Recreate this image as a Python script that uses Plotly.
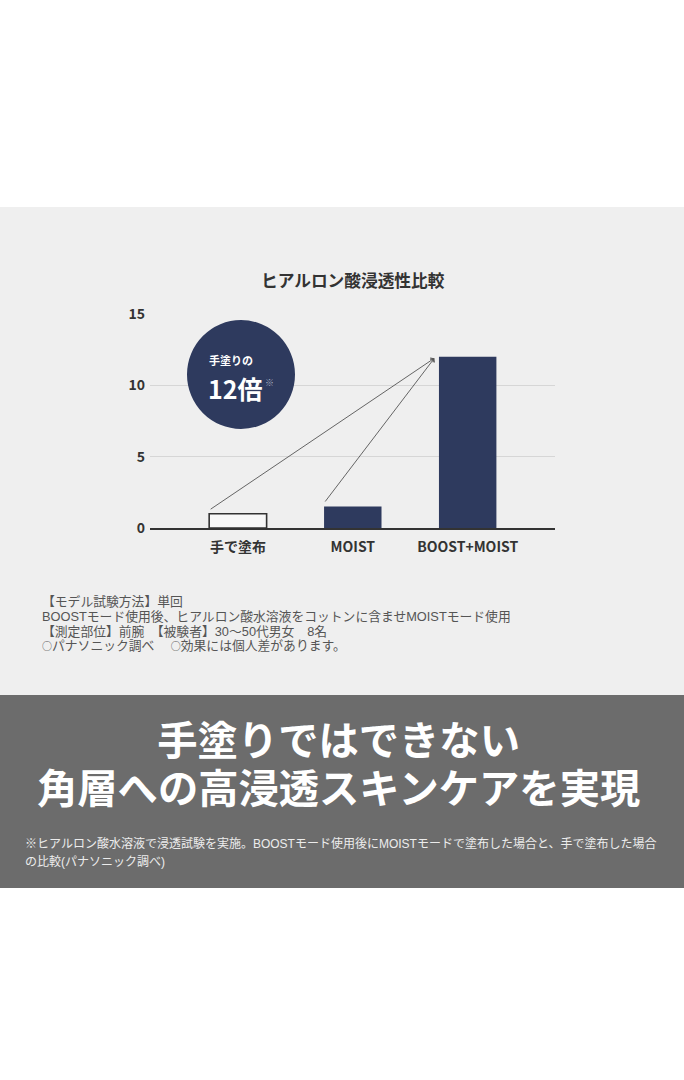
import plotly.graph_objects as go

W, H = 684, 1080

# ---- data ----
categories = ["手で塗布", "MOIST", "BOOST+MOIST"]
values = [1.0, 1.5, 12.0]
y_ticks = [0, 5, 10, 15]
chart_title = "ヒアルロン酸浸透性比較"
badge_line1 = "手塗りの"
badge_line2 = "12倍"
notes = [
    "【モデル試験方法】単回",
    "BOOSTモード使用後、ヒアルロン酸水溶液をコットンに含ませMOISTモード使用",
    "【測定部位】前腕　【被験者】30～50代男女　8名",
    "○パナソニック調べ　 ○効果には個人差があります。",
]
headline = ["手塗りではできない", "角層への高浸透スキンケアを実現"]
footnote = [
    "※ヒアルロン酸水溶液で浸透試験を実施。BOOSTモード使用後にMOISTモードで塗布した場合と、手で塗布した場合",
    "の比較(パナソニック調べ)",
]

NAVY = "#2e3a5e"
JP = "Noto Sans CJK JP"
JP_TIGHT = "Liberation Sans, Noto Sans CJK JP"   # compact line metrics for tight multi-line blocks


def px(x):
    return x / W


def py(y):
    return (H - y) / H


def lines(texts, size):
    return "<br>".join(f'<span style="font-size:{size}px">{t}</span>' for t in texts)


def cjk_circle(t):
    return t.replace("○", '<span style="font-family:Noto Sans CJK JP;font-size:10px">○</span>')


bar_width = 0.5
fill_colors = ["#f8f8f8", NAVY, NAVY]
line_colors = ["#333333", NAVY, NAVY]

fig = go.Figure()
fig.add_trace(go.Bar(
    x=list(range(len(categories))), y=values,
    width=bar_width,
    marker=dict(color=fill_colors, line=dict(color=line_colors, width=[1.6, 0, 0])),
    hoverinfo="skip",
))

shapes = [
    dict(type="rect", xref="paper", yref="paper", x0=0, x1=1, y0=py(695), y1=py(207),
         fillcolor="#efefef", line=dict(width=0), layer="below"),
    dict(type="rect", xref="paper", yref="paper", x0=0, x1=1, y0=py(888), y1=py(695),
         fillcolor="#6c6c6c", line=dict(width=0), layer="below"),
    dict(type="circle", xref="paper", yref="paper", x0=px(187), x1=px(295), y0=py(429), y1=py(320),
         fillcolor=NAVY, line=dict(width=0), layer="above"),
]

annotations = [
    dict(text=chart_title, x=px(353), y=py(280), xref="paper", yref="paper", showarrow=False,
         xanchor="center", yanchor="middle",
         font=dict(family=JP, size=16.7, color="#333333", weight="bold")),
    dict(text=badge_line1, x=px(207), y=py(360), xref="paper", yref="paper", showarrow=False,
         xanchor="left", yanchor="middle",
         font=dict(family=JP, size=11, color="white", weight="bold")),
    dict(text=badge_line2, x=px(206), y=py(388), xref="paper", yref="paper", showarrow=False,
         xanchor="left", yanchor="middle",
         font=dict(family=JP, size=25, color="white", weight="bold")),
    dict(text="※", x=px(263), y=py(382), xref="paper", yref="paper", showarrow=False,
         xanchor="left", yanchor="middle",
         font=dict(family=JP, size=9, color="#aab0c0")),
]

# arrows from the two smaller bars to the top of the BOOST+MOIST bar
target_i = 2
for i in (0, 1):
    annotations.append(dict(
        x=target_i - bar_width / 2 - 0.04, y=values[target_i] - 0.1,
        ax=i - bar_width / 2, ay=values[i] + 0.25,
        xref="x", yref="y", axref="x", ayref="y",
        showarrow=True, arrowhead=4, arrowsize=1.1, arrowwidth=0.9,
        arrowcolor="#555555", text="",
    ))

# notes block (line pitch from base size, glyph size from inner span)
annotations.append(dict(text=lines([cjk_circle(t) for t in notes], 12.8), x=px(40), y=py(623),
                        xref="paper", yref="paper",
                        showarrow=False, xanchor="left", yanchor="middle", align="left",
                        font=dict(family=JP_TIGHT, size=11.4, color="#555555")))

annotations.append(dict(text=lines(headline, 40.3), x=px(338), y=py(765.5), xref="paper", yref="paper",
                        showarrow=False, xanchor="center", yanchor="middle", align="center",
                        font=dict(family=JP_TIGHT, size=37, color="white", weight="bold")))

annotations.append(dict(text=lines(footnote, 12), x=px(23), y=py(852), xref="paper", yref="paper",
                        showarrow=False, xanchor="left", yanchor="middle", align="left",
                        font=dict(family=JP_TIGHT, size=13.8, color="#ececec")))

fig.update_layout(
    width=W, height=H, autosize=False,
    margin=dict(l=0, r=0, t=0, b=0, pad=0, autoexpand=False),
    paper_bgcolor="white", plot_bgcolor="rgba(0,0,0,0)",
    showlegend=False,
    bargap=0.5,
    shapes=shapes, annotations=annotations,
    xaxis=dict(
        domain=[px(150), px(555)],
        range=[-0.765, 2.76],
        tickmode="array", tickvals=list(range(len(categories))), ticktext=categories,
        showline=True, linecolor="#333333", linewidth=1.5,
        showgrid=False, zeroline=False, ticks="",
        tickfont=dict(family=JP, size=14, color="#333333", weight="bold"),
        ticklabelstandoff=6, automargin=False,
        fixedrange=True,
    ),
    yaxis=dict(
        domain=[py(528), py(314)],
        range=[0, 15],
        tickmode="array", tickvals=y_ticks,
        showgrid=True, gridcolor="#d6d6d6", gridwidth=1,
        zeroline=False, showline=False, ticks="",
        tickfont=dict(family=JP, size=14, color="#333333", weight="bold"),
        ticklabelstandoff=4, automargin=False,
        fixedrange=True,
    ),
)

fig.write_html(
    "out.html",
    config={"displayModeBar": False, "staticPlot": True},
    post_script="document.body.style.margin='0';document.body.style.overflow='hidden';",
)
